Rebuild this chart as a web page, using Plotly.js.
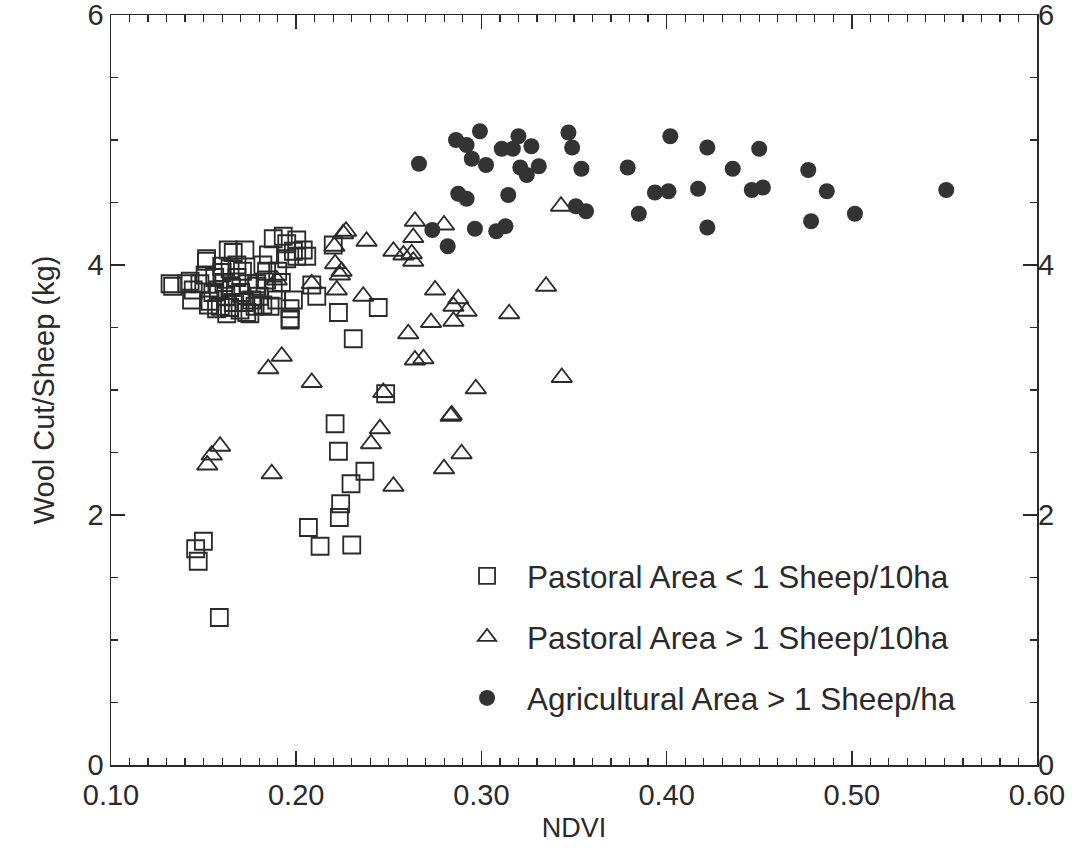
<!DOCTYPE html>
<html>
<head>
<meta charset="utf-8">
<script src="https://cdn.plot.ly/plotly-3.0.1.min.js"></script>
<style>html,body{margin:0;padding:0;background:#fff;}#chart{width:1090px;height:848px;}</style>
</head>
<body>
<div id="chart"></div>
<script>
// Pastoral Area < 1 Sheep/10ha (squares)
const pastoralLowX = [0.221,0.2228,0.2371,0.2296,0.224,0.2233,0.2066,0.2129,0.230,0.1499,0.1457,0.1471,0.1585,0.2483,0.2308,0.2443,0.2228,0.2111,0.1967,0.2084,0.2200,0.2057,0.1985,
  0.1319,0.1333,0.1409,0.1427,0.1444,0.1435,0.1480,0.1508,0.1516,0.1516,0.1526,0.1535,0.1570,0.1590,0.1598,0.1625,0.1633,0.1643,0.1660,0.1697,0.1723,0.1733,0.1750,0.1778,0.1787,0.1787,0.1840,0.1840,0.1850,0.1859,0.1876,0.1876,0.1895,0.1930,0.1949,0.1949,0.1967,0.1967,0.2003,0.2038,0.2003,
  0.1560,0.1580,0.1610,0.1620,0.1650,0.1660,0.1680,0.1700,0.1710,0.1740,0.1760,0.1800,0.1820,0.1550,0.1600,0.1680,0.1820,0.1900,0.1920,0.1985,0.1640,0.1720];
const pastoralLowY = [2.73,2.51,2.35,2.25,2.09,1.98,1.90,1.75,1.76,1.79,1.73,1.63,1.18,2.97,3.41,3.66,3.62,3.75,3.57,3.84,4.16,4.07,4.11,
  3.85,3.83,3.85,3.87,3.80,3.72,3.85,3.92,4.05,4.03,3.68,3.71,3.65,3.67,3.99,3.61,4.12,3.97,4.10,3.64,4.12,3.62,3.61,3.67,3.85,3.83,3.95,3.88,4.08,3.67,4.21,3.80,3.72,4.23,4.05,4.17,3.65,3.56,4.20,4.12,4.07,
  3.90,3.80,3.86,3.75,3.82,3.70,3.90,3.78,3.95,3.85,3.72,3.75,3.68,3.78,3.94,4.00,4.00,3.95,3.86,3.72,3.66,3.70];

// Pastoral Area > 1 Sheep/10ha (triangles)
const pastoralHighX = [0.2641,0.2798,0.2632,0.2525,0.2579,0.2624,0.2632,0.2380,0.2254,0.2269,0.2206,0.2210,0.2245,0.2236,0.2219,0.2362,0.2084,0.1895,0.2750,0.2875,0.2849,0.2920,0.2849,0.2728,0.2605,0.3150,0.3349,0.2641,0.2687,0.1922,0.1849,0.2084,0.2470,0.2970,0.3434,0.2834,0.2840,0.2452,0.2404,0.2893,0.2798,0.1868,0.2525,0.1589,0.1544,0.1520,0.3430];
const pastoralHighY = [4.35,4.32,4.22,4.11,4.08,4.09,4.03,4.19,4.25,4.27,4.15,4.01,3.95,3.92,3.80,3.75,3.85,3.88,3.80,3.73,3.67,3.63,3.55,3.54,3.45,3.61,3.83,3.24,3.25,3.27,3.17,3.06,2.98,3.01,3.10,2.79,2.80,2.69,2.57,2.49,2.37,2.33,2.23,2.55,2.48,2.40,4.47];

// Agricultural Area > 1 Sheep/ha (filled circles)
const agriX = [0.2992,0.2863,0.2920,0.2948,0.3025,0.2663,0.3110,0.3170,0.3200,0.3270,0.3210,0.3245,0.3310,0.3470,0.3490,0.3540,0.3790,0.4020,0.4220,0.4357,0.2875,0.2920,0.3145,0.3937,0.4010,0.4170,0.3510,0.3565,0.3850,0.4220,0.2735,0.2965,0.3080,0.3130,0.2818,0.4500,0.4460,0.4520,0.4765,0.4865,0.4780,0.5017,0.5510];
const agriY = [5.07,5.00,4.96,4.85,4.80,4.81,4.93,4.93,5.03,4.95,4.78,4.72,4.79,5.06,4.94,4.77,4.78,5.03,4.94,4.77,4.57,4.53,4.56,4.58,4.59,4.61,4.47,4.43,4.41,4.30,4.28,4.29,4.27,4.31,4.15,4.93,4.60,4.62,4.76,4.59,4.35,4.41,4.60];

const seriesNames = ["Pastoral Area < 1 Sheep/10ha","Pastoral Area > 1 Sheep/10ha","Agricultural Area > 1 Sheep/ha"];
const xRange = [0.1, 0.6];
const yRange = [0, 6];
const yTickVals = [0, 2, 4, 6];
const yTickText = ["0", "2", "4", "6"];

const ink = "#2a2a2a";
const font = "Liberation Sans, Arial, sans-serif";

const traces = [
  {x: pastoralLowX, y: pastoralLowY, name: seriesNames[0], type: "scatter", mode: "markers", legendgroup: "a",
   marker: {symbol: "square-open", size: 17, color: ink, line: {width: 1.8, color: ink}}},
  {x: pastoralHighX, y: pastoralHighY, name: seriesNames[1], type: "scatter", mode: "markers", legendgroup: "b",
   marker: {symbol: "triangle-up-open", size: 18, color: ink, line: {width: 1.8, color: ink}}},
  {x: agriX, y: agriY, name: seriesNames[2], type: "scatter", mode: "markers", legendgroup: "c", yaxis: "y2",
   marker: {symbol: "circle", size: 16, color: "#333", line: {width: 0}}}
];

const layout = {
  width: 1090, height: 848,
  margin: {l: 111, r: 53, t: 15, b: 83},
  paper_bgcolor: "#fff", plot_bgcolor: "#fff",
  font: {family: font, color: ink, size: 28},
  showlegend: true,
  legend: {x: 0.3629, y: 0.288, xanchor: "left", yanchor: "top", bgcolor: "rgba(0,0,0,0)", itemwidth: 70,
           font: {family: font, size: 31.5, color: ink}, tracegroupgap: 17, traceorder: "grouped"},
  xaxis: {
    range: xRange, tickmode: "linear", tick0: 0.1, dtick: 0.1, tickformat: ".2f",
    ticks: "inside", ticklen: 14, tickwidth: 1.5, tickcolor: ink,
    showline: true, linecolor: ink, linewidth: 1.5, mirror: "ticks",
    showgrid: false, zeroline: false, ticklabelstandoff: 4, ticklabeloverflow: "allow",
    tickfont: {size: 29, family: font, color: ink},
    minor: {dtick: 0.01, ticks: "inside", ticklen: 7, tickwidth: 1.2, tickcolor: ink, showgrid: false},
    title: {text: "NDVI", font: {size: 27, family: font, color: ink}, standoff: 8}
  },
  yaxis: {
    range: yRange, tickmode: "array", tickvals: yTickVals, ticktext: yTickText,
    ticks: "inside", ticklen: 14, tickwidth: 1.5, tickcolor: ink,
    showline: true, linecolor: ink, linewidth: 1.5, mirror: "ticks",
    showgrid: false, zeroline: false, ticklabeloverflow: "allow",
    tickfont: {size: 29, family: font, color: ink},
    minor: {dtick: 0.5, ticks: "inside", ticklen: 7, tickwidth: 1.2, tickcolor: ink, showgrid: false},
    title: {text: "Wool Cut/Sheep (kg)", font: {size: 29, family: font, color: ink}, standoff: 24}
  },
  yaxis2: {
    overlaying: "y", side: "right", range: yRange, tickmode: "array", tickvals: yTickVals, ticktext: yTickText,
    ticks: "", showline: false, showgrid: false, zeroline: false, ticklabeloverflow: "allow",
    tickfont: {size: 29, family: font, color: ink}
  }
};

Plotly.newPlot("chart", traces, layout, {displayModeBar: false, staticPlot: true});
</script>
</body>
</html>
